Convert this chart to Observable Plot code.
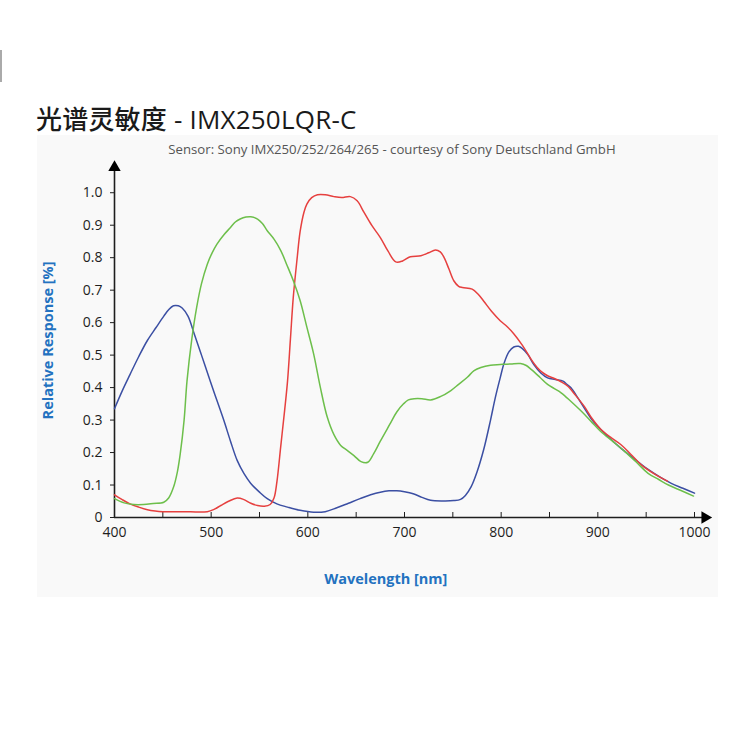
<!DOCTYPE html>
<html>
<head>
<meta charset="utf-8">
<script src="https://cdn.jsdelivr.net/npm/d3@7"></script>
<script src="https://cdn.jsdelivr.net/npm/@observablehq/plot@0.6"></script>
<style>
  html, body { margin: 0; padding: 0; background: #fff; }
  #wrap { position: relative; width: 750px; height: 750px; overflow: hidden; font-family: "Open Sans", "Noto Sans CJK SC", sans-serif; }
  #panel { position: absolute; left: 37px; top: 135px; width: 681px; height: 462px; background: #f9f9f9; }
  #mark { position: absolute; left: 0; top: 50px; width: 2px; height: 32px; background: #aaa; }
  #title { position: absolute; left: 36px; top: 99px; font-size: 26px; font-weight: 500; color: #1a1a1a; font-family: "Open Sans", "Noto Sans CJK SC", sans-serif; white-space: nowrap; letter-spacing: 0.2px; }
  #subtitle { position: absolute; left: 0; width: 784px; text-align: center; top: 140px; font-size: 13.2px; color: #555; white-space: nowrap; }
  #chart { position: absolute; left: 0; top: 0; }
</style>
</head>
<body>
<div id="wrap">
  <div id="mark"></div>
  <div id="panel"></div>
  <div id="chart"></div>
  <div id="title">光谱灵敏度 - IMX250LQR-C</div>
  <div id="subtitle">Sensor: Sony IMX250/252/264/265 - courtesy of Sony Deutschland GmbH</div>
</div>
<script>
// ---- Data ----
const blueNm = [400, 408, 416, 425, 434, 443, 451, 456, 461, 466, 470, 476, 482, 490, 499, 506, 513, 520, 527, 534, 541, 550, 558, 568, 579, 592, 606, 618, 630, 642, 654, 665, 675, 684, 692, 700, 709, 718, 727, 740, 751, 758, 763, 769, 775, 782, 789, 794, 799, 803, 808, 813, 818, 822, 828, 834, 841, 848, 856, 864, 868, 872, 879, 886, 893, 900, 912, 924, 938, 952, 964, 976, 988, 1000];
const blueVal = [0.335, 0.39, 0.44, 0.495, 0.545, 0.585, 0.62, 0.64, 0.652, 0.652, 0.645, 0.62, 0.57, 0.50, 0.42, 0.36, 0.30, 0.235, 0.175, 0.135, 0.105, 0.078, 0.058, 0.042, 0.032, 0.022, 0.016, 0.018, 0.030, 0.044, 0.058, 0.070, 0.078, 0.082, 0.082, 0.079, 0.073, 0.062, 0.053, 0.051, 0.052, 0.056, 0.068, 0.095, 0.14, 0.21, 0.30, 0.37, 0.43, 0.475, 0.51, 0.525, 0.527, 0.52, 0.50, 0.47, 0.445, 0.43, 0.425, 0.42, 0.41, 0.40, 0.37, 0.337, 0.305, 0.28, 0.245, 0.213, 0.18, 0.148, 0.125, 0.105, 0.09, 0.075];

const redNm = [400, 408, 416, 425, 434, 442, 450, 470, 496, 503, 510, 518, 527, 534, 541, 548, 555, 561, 565, 568, 572, 576, 579, 582, 585, 589, 592, 596, 599, 604, 610, 618, 627, 635, 644, 651, 658, 666, 675, 683, 691, 698, 706, 717, 725, 732, 737, 741, 746, 751, 756, 760, 770, 776, 782, 790, 799, 806, 813, 822, 831, 837, 843, 849, 855, 862, 869, 877, 886, 894, 903, 914, 924, 934, 945, 958, 972];
const redVal = [0.07, 0.055, 0.042, 0.032, 0.024, 0.02, 0.018, 0.018, 0.018, 0.025, 0.037, 0.05, 0.06, 0.055, 0.044, 0.037, 0.035, 0.04, 0.06, 0.11, 0.22, 0.33, 0.42, 0.55, 0.68, 0.80, 0.88, 0.94, 0.965, 0.985, 0.994, 0.994, 0.988, 0.985, 0.988, 0.975, 0.94, 0.90, 0.862, 0.82, 0.787, 0.79, 0.803, 0.806, 0.815, 0.824, 0.818, 0.80, 0.765, 0.729, 0.712, 0.708, 0.703, 0.688, 0.666, 0.635, 0.606, 0.588, 0.566, 0.53, 0.487, 0.463, 0.446, 0.435, 0.428, 0.418, 0.404, 0.376, 0.342, 0.305, 0.272, 0.245, 0.224, 0.195, 0.162, 0.135, 0.112];

const greenNm = [400, 410, 420, 430, 440, 451, 456, 461, 465, 468, 472, 475, 480, 485, 490, 496, 501, 506, 513, 520, 525, 530, 536, 541, 548, 553, 558, 565, 572, 578, 585, 592, 599, 606, 613, 620, 627, 634, 641, 648, 655, 662, 668, 675, 685, 692, 699, 704, 710, 718, 727, 737, 748, 756, 765, 772, 779, 789, 799, 810, 820, 826, 831, 840, 848, 855, 862, 872, 883, 893, 903, 916, 928, 940, 952, 963, 973, 986, 999];
const greenVal = [0.058, 0.045, 0.04, 0.04, 0.043, 0.047, 0.06, 0.093, 0.14, 0.196, 0.30, 0.42, 0.55, 0.647, 0.72, 0.78, 0.815, 0.842, 0.87, 0.893, 0.91, 0.919, 0.925, 0.926, 0.919, 0.905, 0.883, 0.857, 0.822, 0.78, 0.729, 0.668, 0.586, 0.504, 0.40, 0.31, 0.255, 0.222, 0.206, 0.19, 0.172, 0.17, 0.196, 0.235, 0.288, 0.325, 0.35, 0.362, 0.366, 0.366, 0.362, 0.372, 0.391, 0.41, 0.432, 0.452, 0.462, 0.469, 0.471, 0.473, 0.474, 0.468, 0.456, 0.432, 0.41, 0.397, 0.384, 0.358, 0.327, 0.296, 0.265, 0.233, 0.203, 0.17, 0.136, 0.117, 0.10, 0.083, 0.066];

const xTickLabels = [400, 500, 600, 700, 800, 900, 1000];
const xMinorTicks = [400, 450, 500, 550, 600, 650, 700, 750, 800, 850, 900, 950, 1000];
const yTickValues = [0, 0.1, 0.2, 0.3, 0.4, 0.5, 0.6, 0.7, 0.8, 0.9, 1.0];
const yTickLabels = ["0", "0.1", "0.2", "0.3", "0.4", "0.5", "0.6", "0.7", "0.8", "0.9", "1.0"];
const xTitle = "Wavelength [nm]";
const yTitle = "Relative Response [%]";

const series = [
  {name: "B channel", nm: blueNm, val: blueVal, color: "#3b4fa3"},
  {name: "R channel", nm: redNm, val: redVal, color: "#e6403f"},
  {name: "G channel", nm: greenNm, val: greenVal, color: "#6dbf4b"}
];

const xDomain = [400, 1015];
const yDomain = [0, 1.09];
const axisColor = "#1e1e1e";
const labelColor = "#2372c0";

const lineMarks = series.map(s =>
  Plot.line(s.nm.map((n, i) => ({nm: n, v: s.val[i]})),
    {x: "nm", y: "v", stroke: s.color, strokeWidth: 1.5, curve: "catmull-rom"})
);

const plot = Plot.plot({
  width: 750,
  height: 750,
  marginLeft: 114,
  marginRight: 41.5,
  marginTop: 163,
  marginBottom: 233,
  style: {background: "transparent", fontFamily: "'Open Sans', sans-serif", fontSize: "14px", color: axisColor},
  x: {domain: xDomain, axis: null},
  y: {domain: yDomain, axis: null},
  marks: [
    Plot.axisY({ticks: yTickValues, tickSize: 4, tickPadding: 8, tickFormat: d => yTickLabels[yTickValues.indexOf(d)], label: null, fontSize: 14, fill: axisColor, stroke: axisColor}),
    Plot.axisX({ticks: xMinorTicks, tickSize: -5, tickFormat: () => "", label: null, stroke: axisColor}),
    Plot.axisX({ticks: xTickLabels, tickSize: 0, tickPadding: 10, tickFormat: d => String(d), label: null, fontSize: 14, fill: axisColor}),
    Plot.ruleX([xDomain[0]], {stroke: axisColor, strokeWidth: 1.6}),
    Plot.ruleY([yDomain[0]], {stroke: axisColor, strokeWidth: 1.6}),
    Plot.dot([{x: xDomain[0], y: yDomain[1]}], {x: "x", y: "y", symbol: "triangle", r: 4.6, fill: "#000", stroke: null, dy: 4}),
    Plot.dot([{x: xDomain[1], y: yDomain[0]}], {x: "x", y: "y", symbol: "triangle", r: 4.6, fill: "#000", stroke: null, rotate: 90, dx: -4}),
    ...lineMarks,
    Plot.text([yTitle], {frameAnchor: "left", dx: -66, rotate: -90, textAnchor: "middle", fill: labelColor, fontWeight: "bold", fontSize: 14.5}),
    Plot.text([xTitle], {frameAnchor: "bottom", dy: 66, dx: -26, textAnchor: "middle", fill: labelColor, fontWeight: "bold", fontSize: 14.5})
  ]
});
document.getElementById("chart").appendChild(plot);
</script>
</body>
</html>
